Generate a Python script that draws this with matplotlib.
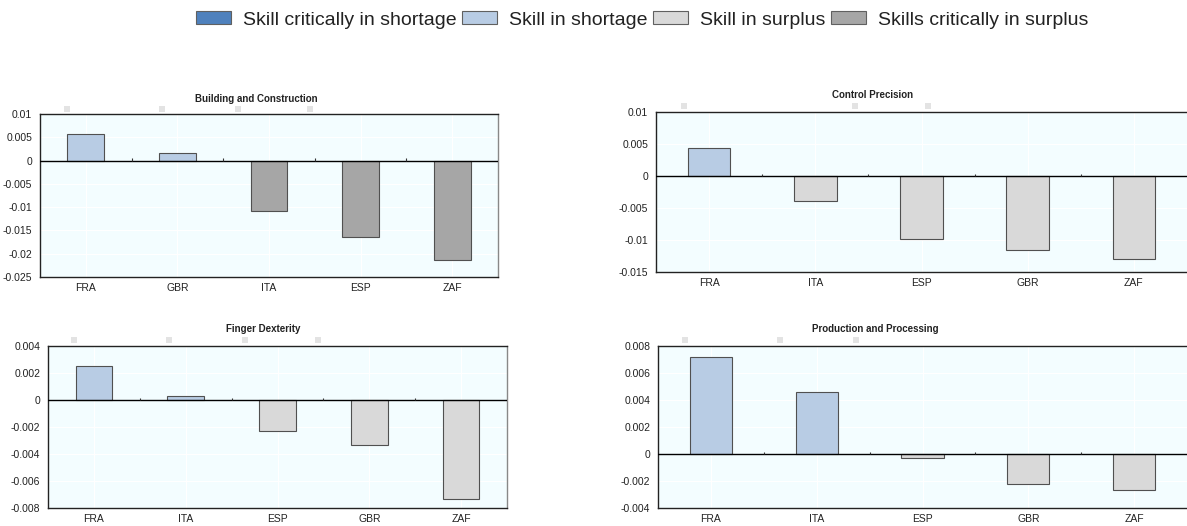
import matplotlib
matplotlib.use("Agg")
import matplotlib.pyplot as plt
from matplotlib.patches import Patch, Rectangle
from matplotlib.ticker import FuncFormatter

plt.rcParams['font.family'] = ['Liberation Sans', 'DejaVu Sans']

# ---- data ----
legend_labels = ["Skill critically in shortage", "Skill in shortage",
                 "Skill in surplus", "Skills critically in surplus"]
legend_colors = ["#4f81bd", "#b8cce4", "#d9d9d9", "#a6a6a6"]

titles = ["Building and Construction", "Control Precision",
          "Finger Dexterity", "Production and Processing"]

cats_build = ["FRA", "GBR", "ITA", "ESP", "ZAF"]
vals_build = [0.0058, 0.0016, -0.0108, -0.0164, -0.0214]
class_build = [1, 1, 3, 3, 3]

cats_ctrl = ["FRA", "ITA", "ESP", "GBR", "ZAF"]
vals_ctrl = [0.0043, -0.0039, -0.0098, -0.0116, -0.0130]
class_ctrl = [1, 2, 2, 2, 2]

cats_finger = ["FRA", "ITA", "ESP", "GBR", "ZAF"]
vals_finger = [0.0025, 0.0003, -0.0023, -0.0033, -0.0073]
class_finger = [1, 1, 2, 2, 2]

cats_prod = ["FRA", "ITA", "ESP", "GBR", "ZAF"]
vals_prod = [0.0072, 0.0046, -0.0003, -0.0022, -0.0027]
class_prod = [1, 1, 2, 2, 2]

yticks_build = [0.01, 0.005, 0, -0.005, -0.01, -0.015, -0.02, -0.025]
yticks_ctrl = [0.01, 0.005, 0, -0.005, -0.01, -0.015]
yticks_finger = [0.004, 0.002, 0, -0.002, -0.004, -0.006, -0.008]
yticks_prod = [0.008, 0.006, 0.004, 0.002, 0, -0.002, -0.004]

W, H = 1187, 526
fig = plt.figure(figsize=(W / 100, H / 100), dpi=100)

def box(l, r, t, b):
    return [l / W, 1 - b / H, (r - l) / W, (b - t) / H]

panels = [
    (box(40, 498, 114, 277), cats_build, vals_build, class_build, yticks_build, titles[0], (256, 99), [67, 162, 238, 310], 109, True),
    (box(656, 1187, 112, 272), cats_ctrl, vals_ctrl, class_ctrl, yticks_ctrl, titles[1], (873, 95), [684, 855, 928], 106, False),
    (box(48, 507, 346, 508), cats_finger, vals_finger, class_finger, yticks_finger, titles[2], (263, 329), [74, 169, 245, 318], 340, True),
    (box(658, 1187, 346, 508), cats_prod, vals_prod, class_prod, yticks_prod, titles[3], (875, 329), [685, 780, 856], 340, False),
]

fmt = FuncFormatter(lambda v, p: "0" if abs(v) < 1e-12 else "{:g}".format(v))

for rect, cats, vals, cls, yt, title, tpos, sq_x, sq_y, right_spine in panels:
    ax = fig.add_axes(rect)
    ax.set_facecolor("#f3fdff")
    x = list(range(len(cats)))
    ax.bar(x, vals, width=0.4, color=[legend_colors[c] for c in cls],
           edgecolor="#505050", linewidth=0.8, zorder=3)
    ax.set_xlim(-0.5, len(cats) - 0.5)
    ax.set_ylim(min(yt), max(yt))
    ax.set_yticks(yt)
    ax.yaxis.set_major_formatter(fmt)
    ax.set_xticks(x)
    ax.set_xticklabels(cats)
    ax.tick_params(axis="both", length=0, labelsize=7.5, colors="#222222")
    ax.tick_params(axis="y", pad=5.5)
    ax.tick_params(axis="x", pad=4)
    # faint white grid
    ax.grid(True, color="white", linewidth=0.8, zorder=0)
    ax.axhline(0, color="black", linewidth=1.0, zorder=4)
    span = max(yt) - min(yt)
    ax.vlines([i + 0.5 for i in x[:-1]], 0, span * 0.015, color="#333333",
              linewidth=0.8, zorder=4)
    for s in ax.spines.values():
        s.set_color("#222222")
        s.set_linewidth(1.0)
    ax.spines["right"].set_visible(right_spine)
    ax.spines["right"].set_color("#888888")
    fig.text(tpos[0] / W, 1 - tpos[1] / H, title, ha="center", va="center",
             fontsize=7, fontweight="bold", color="#222222")
    for sx in sq_x:
        fig.patches.append(Rectangle(((sx - 3) / W, 1 - (sq_y + 3) / H), 6 / W, 6 / H,
                                     transform=fig.transFigure, facecolor="#e3e3e3",
                                     edgecolor="none"))

handles = [Patch(facecolor=c, edgecolor="#606060", linewidth=0.8) for c in legend_colors]
fig.legend(handles, legend_labels, loc="center", bbox_to_anchor=(642 / W, 1 - 20 / H),
           ncol=4, frameon=False, fontsize=14, handlelength=1.8, handleheight=0.65,
           columnspacing=0.3, handletextpad=0.6, labelcolor="#222222",
           borderpad=0.2)

fig.savefig("out.png", dpi=100)
